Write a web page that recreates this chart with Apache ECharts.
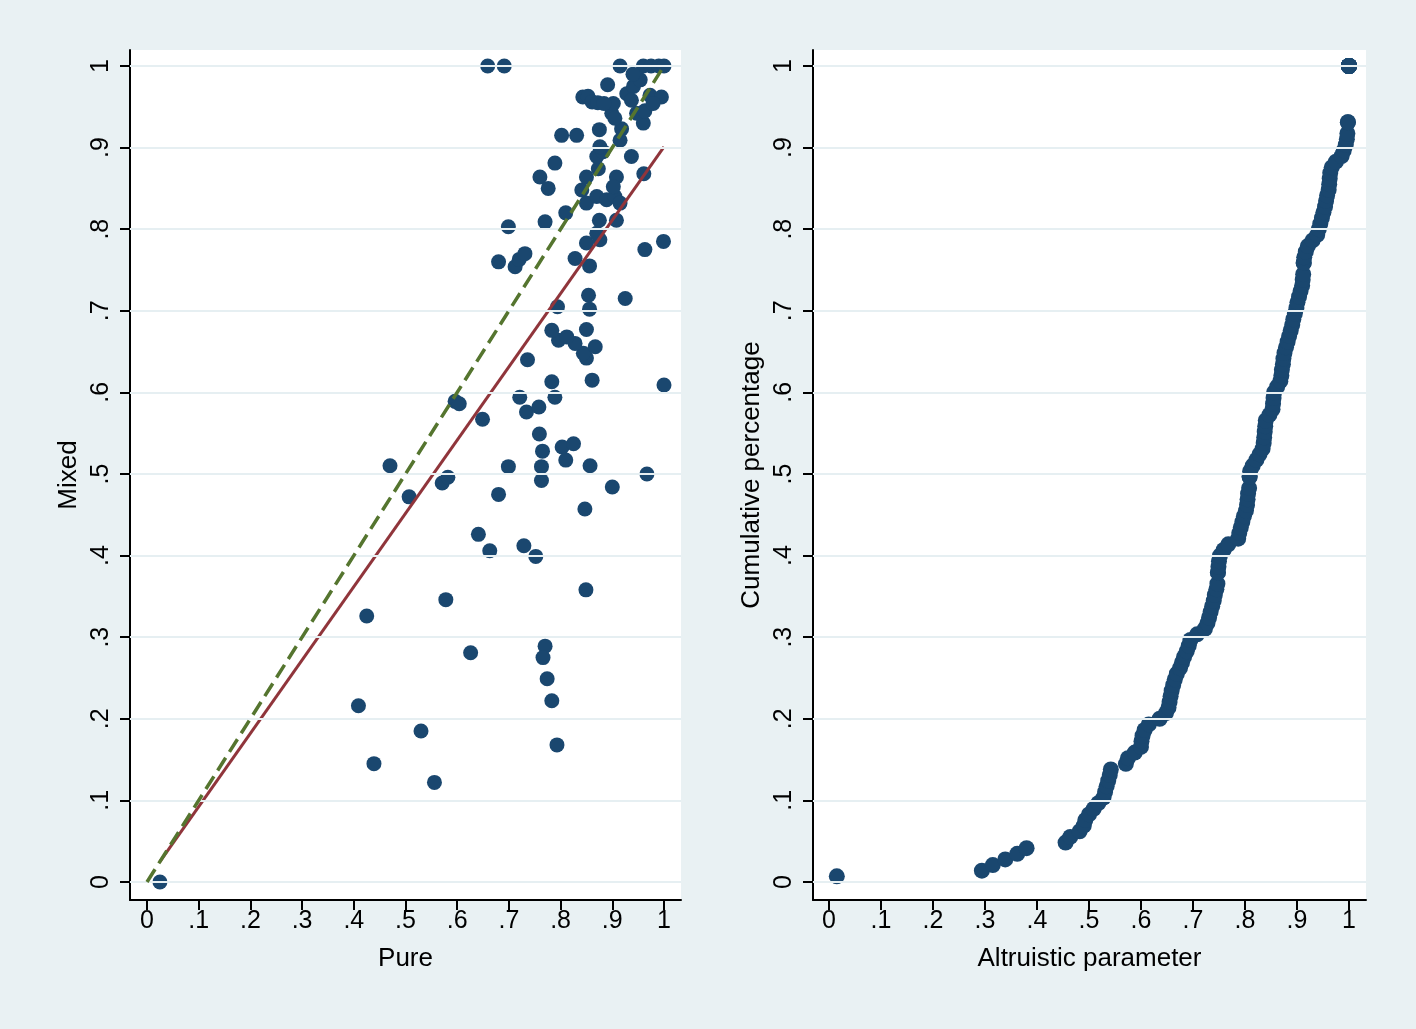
<!DOCTYPE html>
<html><head><meta charset="utf-8">
<script src="https://cdn.jsdelivr.net/npm/echarts@6/dist/echarts.min.js"></script>
<style>html,body{margin:0;padding:0;background:#e9f1f3;} #c{width:1416px;height:1029px;}</style>
</head><body><div id="c"></div>
<script>
// tick positions and labels (both panels, both axes)
const tickValues = [0, 0.1, 0.2, 0.3, 0.4, 0.5, 0.6, 0.7, 0.8, 0.9, 1];
const tickLabels = ["0", ".1", ".2", ".3", ".4", ".5", ".6", ".7", ".8", ".9", "1"];

// Left panel: Pure vs Mixed
const pure = [0.025,0.409,0.439,0.53,0.556,0.425,0.578,0.626,0.77,0.766,0.774,0.783,0.793,0.47,0.507,0.571,0.582,0.849,0.641,0.663,
  0.729,0.752,0.847,0.68,0.90,0.967,0.857,0.699,0.763,0.763,0.803,0.825,0.81,0.765,0.759,0.649,0.596,0.604,0.721,0.734,
  0.758,0.789,0.783,0.861,1.0,0.736,0.85,0.844,0.867,0.828,0.796,0.812,0.783,0.85,0.794,0.856,0.854,0.925,0.828,0.856,
  0.68,0.712,0.72,0.731,0.963,0.999,0.85,0.876,0.87,0.875,0.908,0.699,0.77,0.81,0.85,0.87,0.889,0.905,0.915,0.841,
  0.85,0.873,0.908,0.902,0.961,0.76,0.776,0.789,0.87,0.882,0.876,0.937,0.875,0.802,0.831,0.918,0.915,0.96,0.947,0.963,
  0.899,0.905,0.902,0.843,0.853,0.861,0.872,0.884,0.891,0.928,0.941,0.954,0.937,0.973,0.995,0.979,0.659,0.691,0.915,0.96,
  0.975,0.99,1.0,0.94];
const mixed = [0.0,0.216,0.145,0.185,0.122,0.326,0.346,0.281,0.289,0.275,0.249,0.222,0.168,0.51,0.472,0.489,0.496,0.358,0.426,0.406,
  0.412,0.399,0.457,0.475,0.484,0.50,0.51,0.509,0.509,0.492,0.533,0.537,0.517,0.528,0.549,0.567,0.589,0.586,0.594,0.576,
  0.582,0.594,0.613,0.615,0.609,0.64,0.642,0.648,0.656,0.66,0.664,0.668,0.676,0.677,0.705,0.702,0.719,0.715,0.764,0.755,
  0.76,0.754,0.763,0.77,0.775,0.785,0.783,0.787,0.795,0.811,0.811,0.803,0.809,0.82,0.832,0.84,0.836,0.84,0.832,0.848,
  0.864,0.874,0.864,0.852,0.868,0.864,0.85,0.881,0.889,0.895,0.901,0.889,0.922,0.915,0.915,0.923,0.909,0.93,0.942,0.945,
  0.942,0.936,0.954,0.962,0.963,0.956,0.955,0.954,0.977,0.966,0.975,0.983,0.958,0.964,0.962,0.954,1,1,1,1,
  1,1,1,0.99];
// fitted line end points and 45-degree reference line
const fitX = [0.025, 1.0];
const fitY = [0.025, 0.901];
const diagX = [0, 1];
const diagY = [0, 1];

// Right panel: sorted altruistic parameter values (cumulative distribution)
const altruistic = [0.015,0.294,0.315,0.339,0.362,0.380,0.455,0.464,0.482,0.490,
  0.493,0.500,0.509,0.518,0.528,0.531,0.534,0.537,0.540,0.542,
  0.571,0.575,0.588,0.600,0.601,0.603,0.607,0.615,0.636,0.648,
  0.653,0.655,0.657,0.659,0.662,0.665,0.669,0.675,0.679,0.683,
  0.688,0.692,0.695,0.708,0.723,0.728,0.731,0.734,0.737,0.740,
  0.742,0.745,0.747,0.748,0.748,0.749,0.750,0.752,0.759,0.768,
  0.787,0.789,0.792,0.795,0.798,0.802,0.804,0.805,0.806,0.808,
  0.809,0.809,0.810,0.815,0.822,0.828,0.834,0.836,0.837,0.838,
  0.839,0.840,0.847,0.853,0.854,0.855,0.856,0.862,0.868,0.870,
  0.871,0.873,0.874,0.876,0.879,0.882,0.885,0.888,0.891,0.893,
  0.896,0.899,0.901,0.904,0.907,0.910,0.911,0.912,0.913,0.913,
  0.914,0.917,0.921,0.930,0.939,0.942,0.945,0.948,0.951,0.954,
  0.956,0.958,0.961,0.962,0.963,0.964,0.967,0.975,0.986,0.990,
  0.994,0.996,0.997,0.998,0.998,1,1,1,1,1,1,1,1,1,1];

const NAVY = '#1a476f', MAROON = '#90353b', GREEN = '#55752f', GRIDC = '#e6eff2';
const FONT = '"Liberation Sans", Arial, sans-serif';

const scatterData = pure.map((p, i) => [p, mixed[i]]);
const N = altruistic.length;
const cumData = altruistic.map((v, i) => {
  let j = i; while (j + 1 < N && altruistic[j + 1] === v) j++;
  return [v, (j + 1) / N];
});
const fitData = fitX.map((x, i) => [x, fitY[i]]);
const diagData = diagX.map((x, i) => [x, diagY[i]]);

function lab(v) {
  for (let i = 0; i < tickValues.length; i++) if (Math.abs(tickValues[i] - v) < 1e-6) return tickLabels[i];
  return '';
}
const axisCommon = {
  type: 'value',
  axisLine: { show: true, onZero: false, lineStyle: { color: '#000', width: 2 } },
  axisTick: { show: true, customValues: tickValues, length: 10, lineStyle: { color: '#000', width: 2 } },
  axisLabel: { customValues: tickValues, formatter: lab, color: '#000', fontSize: 25, fontFamily: FONT, margin: 9 },
  splitLine: { show: false },
  nameLocation: 'middle',
  nameTextStyle: { color: '#000', fontSize: 26, fontFamily: FONT }
};
function xAx(gi, min, max, name) {
  return Object.assign({}, axisCommon, { gridIndex: gi, min, max, name, nameGap: 46, position: 'bottom' });
}
function yAx(gi, min, max, name) {
  const a = Object.assign({}, axisCommon, { gridIndex: gi, min, max, name, nameGap: 48, nameRotate: 90, position: 'left' });
  a.axisLabel = Object.assign({}, axisCommon.axisLabel, { rotate: 90, margin: 16 });
  return a;
}
const gridLines = tickValues.map(v => ({ yAxis: v }));
function gridSeries(i) {
  return { type: 'line', xAxisIndex: i, yAxisIndex: i, data: [], silent: true, z: 1,
    markLine: { silent: true, symbol: 'none', label: { show: false }, animation: false,
      lineStyle: { color: GRIDC, width: 2, type: 'solid' }, data: gridLines } };
}

const chart = echarts.init(document.getElementById('c'), null, { renderer: 'canvas' });
chart.setOption({
  backgroundColor: '#e9f1f3',
  animation: false,
  grid: [
    { left: 130, top: 50, width: 551, height: 850, show: true, backgroundColor: '#fff', borderWidth: 0 },
    { left: 813, top: 50, width: 553, height: 850, show: true, backgroundColor: '#fff', borderWidth: 0 }
  ],
  xAxis: [ xAx(0, -0.0329, 1.0329, 'Pure'), xAx(1, -0.0308, 1.0328, 'Altruistic parameter') ],
  yAxis: [ yAx(0, -0.0221, 1.0196, 'Mixed'), yAx(1, -0.0221, 1.0196, 'Cumulative percentage') ],
  series: [
    gridSeries(0), gridSeries(1),
    { type: 'scatter', xAxisIndex: 0, yAxisIndex: 0, data: scatterData, symbolSize: 15, z: 3,
      itemStyle: { color: NAVY, opacity: 1 } },
    { type: 'line', xAxisIndex: 0, yAxisIndex: 0, data: fitData, symbol: 'none', z: 4,
      lineStyle: { color: MAROON, width: 3 } },
    { type: 'line', xAxisIndex: 0, yAxisIndex: 0, data: diagData, symbol: 'none', z: 5,
      lineStyle: { color: GREEN, width: 3.5, type: [15, 7] } },
    { type: 'scatter', xAxisIndex: 1, yAxisIndex: 1, data: cumData, symbolSize: 16, z: 3,
      itemStyle: { color: NAVY, opacity: 1 } }
  ]
});
</script></body></html>
